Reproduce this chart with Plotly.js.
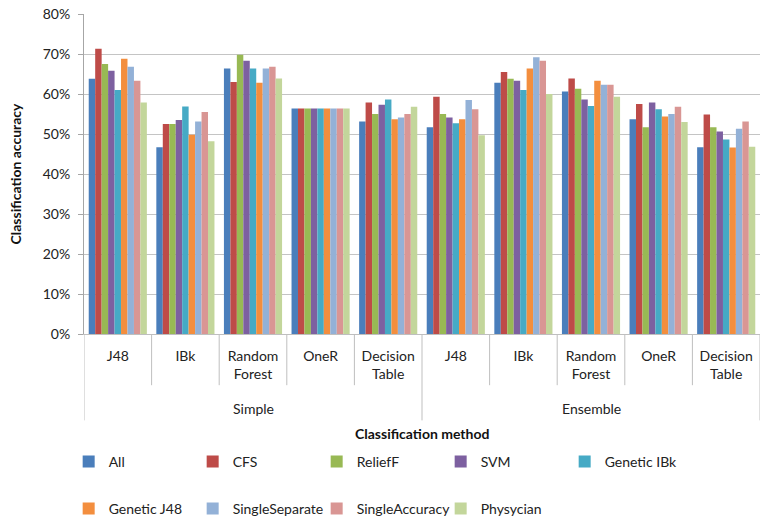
<!DOCTYPE html>
<html>
<head>
<meta charset="utf-8">
<script src="https://cdn.plot.ly/plotly-3.0.1.min.js"></script>
<style>html,body{margin:0;padding:0;background:#fff}#chart{width:763px;height:523px}</style>
</head>
<body>
<div id="chart"></div>
<script>
const groups = ["Simple", "Ensemble"];
const methods = ["J48", "IBk", "Random<br>Forest", "OneR", "Decision<br>Table"];
const seriesNames = ["All", "CFS", "ReliefF", "SVM", "Genetic IBk", "Genetic J48", "SingleSeparate", "SingleAccuracy", "Physycian"];
const seriesColors = ["#4A7EBB", "#BE4B48", "#98B954", "#7D60A0", "#46AAC5", "#F38E3E", "#93B1D7", "#D99694", "#C3D69B"];

// values in %, order: Simple J48, IBk, RF, OneR, DT, Ensemble J48, IBk, RF, OneR, DT
const All            = [63.8, 46.7, 66.4, 56.4, 53.1, 51.7, 62.8, 60.6, 53.7, 46.7];
const CFS            = [71.3, 52.5, 63.0, 56.4, 57.9, 59.3, 65.5, 63.9, 57.5, 54.9];
const ReliefF        = [67.5, 52.5, 69.8, 56.4, 55.0, 55.0, 63.8, 61.3, 51.7, 51.7];
const SVM            = [65.8, 53.5, 68.3, 56.4, 57.3, 54.1, 63.3, 58.6, 57.9, 50.6];
const GeneticIBk     = [61.0, 56.9, 66.4, 56.4, 58.6, 52.7, 61.0, 57.0, 56.2, 48.6];
const GeneticJ48     = [68.8, 49.8, 62.8, 56.4, 53.7, 53.7, 66.4, 63.3, 54.4, 46.6];
const SingleSeparate = [66.8, 53.1, 66.4, 56.4, 54.1, 58.5, 69.2, 62.3, 55.0, 51.3];
const SingleAccuracy = [63.3, 55.5, 66.8, 56.4, 55.0, 56.2, 68.3, 62.3, 56.8, 53.1];
const Physycian      = [57.9, 48.2, 63.9, 56.4, 56.8, 49.7, 60.0, 59.3, 53.0, 46.8];
const seriesValues = [All, CFS, ReliefF, SVM, GeneticIBk, GeneticJ48, SingleSeparate, SingleAccuracy, Physycian];

const yTickVals = [0, 0.1, 0.2, 0.3, 0.4, 0.5, 0.6, 0.7, 0.8];
const xTitle = "Classification method";
const yTitle = "Classification accuracy";

// category positions
const catLabels = [];
groups.forEach(() => methods.forEach(m => catLabels.push(m)));
const xIdx = catLabels.map((_, i) => i);

const FONT = "Lato, 'Open Sans', sans-serif";

const traces = seriesNames.map((name, s) => ({
  type: "bar",
  name: name,
  x: xIdx,
  y: seriesValues[s].map(v => v / 100),
  marker: {color: seriesColors[s], line: {width: 0}},
  legend: s < 5 ? "legend" : "legend2",
  hoverinfo: "x+y+name"
}));

// separators and group labels
const shapes = [];
const annotations = [];
const nPer = methods.length;
for (let i = 0; i <= catLabels.length; i++) {
  const outer = (i % nPer === 0);
  shapes.push({
    type: "line", xref: "x", yref: "paper",
    x0: i - 0.5, x1: i - 0.5, y0: 0, y1: outer ? -0.27 : -0.16,
    line: {color: "#bfbfbf", width: 1}
  });
}
groups.forEach((g, gi) => {
  annotations.push({
    text: g, xref: "x", yref: "paper",
    x: gi * nPer + (nPer - 1) / 2, y: -0.232, yanchor: "middle", xanchor: "center",
    showarrow: false, font: {family: FONT, size: 14, color: "#222"}
  });
});
annotations.push({
  text: "<b>" + xTitle + "</b>", xref: "paper", yref: "paper",
  x: 0.5, y: -0.31, yanchor: "middle", xanchor: "center",
  showarrow: false, font: {family: FONT, size: 14, color: "#111"}
});

const legendCommon = {
  orientation: "h", xref: "container", yref: "container",
  yanchor: "middle", xanchor: "left",
  font: {family: FONT, size: 14, color: "#222"},
  entrywidth: 79, entrywidthmode: "pixels",
  itemwidth: 30, traceorder: "normal",
  bgcolor: "rgba(0,0,0,0)"
};

const layout = {
  width: 763, height: 523,
  margin: {l: 84, r: 3, t: 14, b: 189},
  paper_bgcolor: "#ffffff", plot_bgcolor: "#ffffff",
  font: {family: FONT, size: 14, color: "#222"},
  barmode: "group", bargap: 0.14, bargroupgap: 0,
  showlegend: true,
  legend: Object.assign({x: 0.09, y: 0.117}, legendCommon),
  legend2: Object.assign({x: 0.09, y: 0.027}, legendCommon),
  xaxis: {
    type: "linear", range: [-0.5, catLabels.length - 0.5],
    tickvals: xIdx, ticktext: catLabels, ticks: "",
    ticklabelstandoff: 9,
    showgrid: false, zeroline: false, showline: true, linecolor: "#bfbfbf",
    tickfont: {family: FONT, size: 14, color: "#222"},
    automargin: false
  },
  yaxis: {
    range: [0, 0.8], tickvals: yTickVals, tickformat: ".0%",
    showgrid: true, gridcolor: "#c4c4c4", gridwidth: 1,
    zeroline: false, showline: true, linecolor: "#a6a6a6",
    ticks: "outside", ticklen: 5, tickcolor: "#a6a6a6",
    ticklabelstandoff: 5,
    tickfont: {family: FONT, size: 14, color: "#222"},
    title: {text: "<b>" + yTitle + "</b>", font: {family: FONT, size: 14, color: "#111"}, standoff: 17},
    automargin: false
  },
  shapes: shapes,
  annotations: annotations
};

Plotly.newPlot("chart", traces, layout, {displayModeBar: false, staticPlot: true});
</script>
</body>
</html>
